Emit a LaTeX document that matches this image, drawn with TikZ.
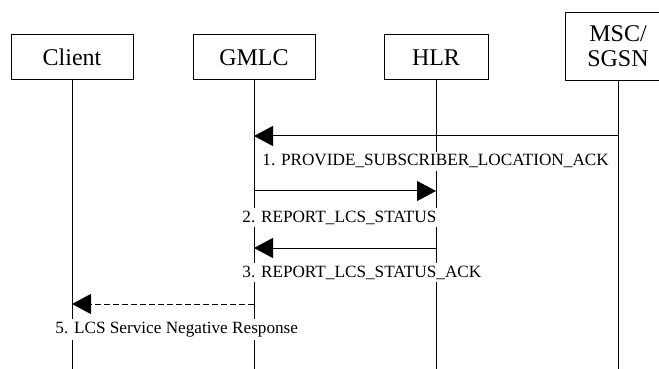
\documentclass[tikz,border=0pt]{standalone}
\usepackage{fontspec}
\setmainfont{Liberation Serif}
\usetikzlibrary{arrows.meta}
\begin{document}
\begin{tikzpicture}[x=0.5pt,y=-0.5pt,
  ent/.style={draw,line width=0.5pt,minimum height=22.5pt,inner sep=0pt,font=\fontsize{12}{12.5}\selectfont,align=center},
  life/.style={line width=0.5pt},
  msg/.style={line width=0.5pt,-{Triangle[length=9.5pt,width=10pt]}},
  lbl/.style={anchor=base west,fill=white,inner xsep=1pt,inner ysep=1.5pt,font=\fontsize{8.6}{10}\selectfont}]
\useasboundingbox (0,0) rectangle (659,369);
\node[ent,minimum width=61pt] (client) at (72,57.5) {Client};
\node[ent,minimum width=61pt] (gmlc) at (254,57.5) {GMLC};
\node[ent,minimum width=52pt] (hlr) at (436,57.5) {HLR};
\node[ent,draw=none,minimum width=52pt,minimum height=33.5pt] (msc) at (618,46.5) {MSC/\\SGSN};
\draw[line width=0.5pt] (msc.north west) rectangle ([xshift=30pt]msc.south east);
\coordinate (bot) at (0,369);
\coordinate (clientb) at (client.south |- bot);
\coordinate (gmlcb) at (gmlc.south |- bot);
\coordinate (hlrb) at (hlr.south |- bot);
\coordinate (mscb) at (msc.south |- bot);
\draw[life] (client.south) -- (clientb);
\draw[life] (gmlc.south) -- (gmlcb);
\draw[life] (hlr.south) -- (hlrb);
\draw[life] (msc.south) -- (mscb);
% message coordinates
\coordinate (m1a) at (msc.south |- 0,136);
\coordinate (m1b) at (gmlc.south |- 0,136);
\coordinate (m2a) at (gmlc.south |- 0,191);
\coordinate (m2b) at (hlr.south |- 0,191);
\coordinate (m3a) at (hlr.south |- 0,248);
\coordinate (m3b) at (gmlc.south |- 0,248);
\coordinate (m5a) at (gmlc.south |- 0,304);
\coordinate (m5b) at (client.south |- 0,304);
\draw[msg] (m1a) -- (m1b);
\draw[msg] (m2a) -- (m2b);
\draw[msg] (m3a) -- (m3b);
\draw[msg,dash pattern=on 3pt off 1.5pt] (m5a) -- (m5b);
\node[lbl] (l1) at (260,166) {1. PROVIDE\_SUBSCRIBER\_LOCATION\_ACK};
\node[lbl] (l2) at (240,222) {2. REPORT\_LCS\_STATUS};
\node[lbl] (l3) at (240,277) {3. REPORT\_LCS\_STATUS\_ACK};
\node[lbl] (l5) at (53,333) {5. LCS Service Negative Response};
\end{tikzpicture}
\end{document}
